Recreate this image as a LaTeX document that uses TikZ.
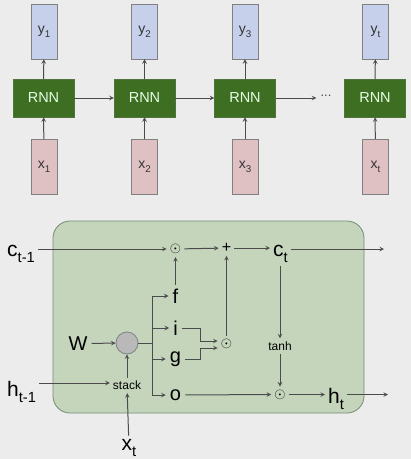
\documentclass[tikz,border=0pt]{standalone}
\usepackage{fontspec}
\setmainfont{Liberation Sans}
\definecolor{fondo}{RGB}{236,236,236}
\definecolor{azulsal}{RGB}{198,208,234}
\definecolor{verdernn}{RGB}{61,110,34}
\definecolor{rosaent}{RGB}{223,192,195}
\definecolor{verdecel}{RGB}{196,213,188}
\definecolor{linea}{RGB}{75,75,75}
\newcommand{\subx}[1]{\raisebox{-0.3em}{\scalebox{0.7}{#1}}}
\tikzset{
  flecha/.style={-stealth, linea, line width=1pt},
  salida/.style={draw=gray, fill=azulsal, minimum width=26pt, minimum height=55pt, inner sep=0pt, text=black!80, font=\fontsize{14}{14}\selectfont},
  entrada/.style={draw=gray, fill=rosaent, minimum width=26pt, minimum height=55pt, inner sep=0pt, text=black!80, font=\fontsize{14}{14}\selectfont},
  celda/.style={draw=verdernn!70!gray, fill=verdernn, minimum width=61pt, minimum height=38pt, inner sep=0pt, text=green!10!white, font=\fontsize{14.5}{14.5}\selectfont},
  grande/.style={inner sep=3pt, font=\fontsize{21}{21}\selectfont},
  puerta/.style={inner sep=4pt, font=\fontsize{20}{20}\selectfont},
  chico/.style={inner sep=3pt, font=\fontsize{12}{12}\selectfont},
  oper/.style={inner sep=3pt, font=\fontsize{15}{15}\selectfont}
}

\begin{document}
\begin{tikzpicture}[x=1pt, y=-1pt]

    \path[use as bounding box, fill=fondo] (0,0) rectangle (411,459);

    % RED RECURRENTE
    \node[celda] (rnn1) at (43.5,98) {RNN};
    \node[celda] (rnn2) at (144.5,98) {RNN};
    \node[celda] (rnn3) at (245,98) {RNN};
    \node[celda] (rnnt) at (375,98) {RNN};
    \node[inner sep=4pt, text=linea, font=\fontsize{13}{13}\selectfont] (puntos) at (326,96) {...};

    \node[salida] (y1) at (44,31.5) {y\subx{1}};
    \node[salida] (y2) at (144.5,31.5) {y\subx{2}};
    \node[salida] (y3) at (245,31.5) {y\subx{3}};
    \node[salida] (yt) at (375.5,31.5) {y\subx{t}};

    \node[entrada] (x1) at (44,166.5) {x\subx{1}};
    \node[entrada] (x2) at (144.5,166.5) {x\subx{2}};
    \node[entrada] (x3) at (245,166.5) {x\subx{3}};
    \node[entrada] (xt) at (375.5,166.5) {x\subx{t}};

    \draw[flecha] (rnn1) -- (rnn2);
    \draw[flecha] (rnn2) -- (rnn3);
    \draw[flecha] (rnn3) -- (rnn3.east -| puntos.west);
    \draw[flecha] (rnn1) -- (y1);
    \draw[flecha] (rnn2) -- (y2);
    \draw[flecha] (rnn3) -- (y3);
    \draw[flecha] (rnnt) -- (yt);
    \draw[flecha] (x1) -- (rnn1);
    \draw[flecha] (x2) -- (rnn2);
    \draw[flecha] (x3) -- (rnn3);
    \draw[flecha] (xt) -- (rnnt);

    % CELDA LSTM
    \draw[draw=gray!90!green, fill=verdecel, line width=0.8pt, rounded corners=17pt] (53,221) rectangle (364,413);

    % ESTADO DE CELDA
    \node[grande, anchor=base west] (cprev) at (4,256) {c\subx{t-1}};
    \node[oper] (od1) at (175.5,249) {$\odot$};
    \node[oper, font=\fontsize{16}{16}\selectfont] (suma) at (226.5,248) {+};
    \node[grande, anchor=base west] (ct) at (270,256) {c\subx{t}};
    \coordinate (cout) at (384,249);

    % PUERTAS
    \node[puerta] (f) at (175.5,296) {f};
    \node[puerta] (i) at (175.5,328) {i};
    \node[puerta] (g) at (175.5,359) {g};
    \node[puerta] (o) at (175.5,395) {o};
    \node[oper] (od2) at (226.5,344) {$\odot$};
    \coordinate (junta) at (200,344);

    % ENTRADAS
    \node[grande, inner sep=4pt, font=\fontsize{20}{20}\selectfont] (W) at (78,343.5) {W};
    \node[circle, draw=gray, fill=gray!55, line width=0.8pt, minimum size=22pt, inner sep=0pt] (mult) at (127,343) {};
    \coordinate (tronco) at (152,343);
    \node[chico] (stack) at (127,385.5) {stack};
    \node[grande, anchor=base west] (hprev) at (4,396) {h\subx{t-1}};
    \node[grande, anchor=base] (xin) at (129,450) {x\subx{t}};

    % SALIDA
    \node[chico] (tanh) at (280,346) {tanh};
    \node[oper] (od3) at (280,394.5) {$\odot$};
    \node[grande, anchor=base west] (ht) at (325,403) {h\subx{t}};
    \coordinate (hout) at (388,394.5);

    % CONEXIONES
    \draw[flecha] (cprev.east |- od1) -- (od1);
    \draw[flecha] (od1) -- (suma);
    \draw[flecha] (suma) -- (suma -| ct.west);
    \draw[flecha] (ct.east |- cout) -- (cout);
    \draw[flecha] (f) -- (od1);
    \draw[flecha] (od2) -- (suma);
    \draw[flecha] (i) -- (i -| junta) |- ([yshift=3pt]od2.west);
    \draw[flecha] (g) -- (g -| junta) |- ([yshift=-4pt]od2.west);

    \draw[flecha] (W) -- (mult);
    \draw[flecha] (stack) -- (mult);
    \draw[flecha] (xin) -- (stack);
    \draw[flecha] (hprev.east |- 0,383) -- (stack.west |- 0,383);
    \draw[linea, line width=1pt] (mult) -- (tronco);
    \draw[linea, line width=1pt] (tronco |- f) -- (tronco |- o);
    \draw[flecha] (tronco |- f) -- (f);
    \draw[flecha] (tronco |- i) -- (i);
    \draw[flecha] (tronco |- g) -- (g);
    \draw[flecha] (tronco |- o) -- (o);

    \draw[flecha] (tanh |- ct.south) -- (tanh);
    \draw[flecha] (tanh) -- (od3);
    \draw[flecha] (o) -- (od3);
    \draw[flecha] (od3) -- (od3 -| ht.west);
    \draw[flecha] (ht.east |- hout) -- (hout);

\end{tikzpicture}
\end{document}
